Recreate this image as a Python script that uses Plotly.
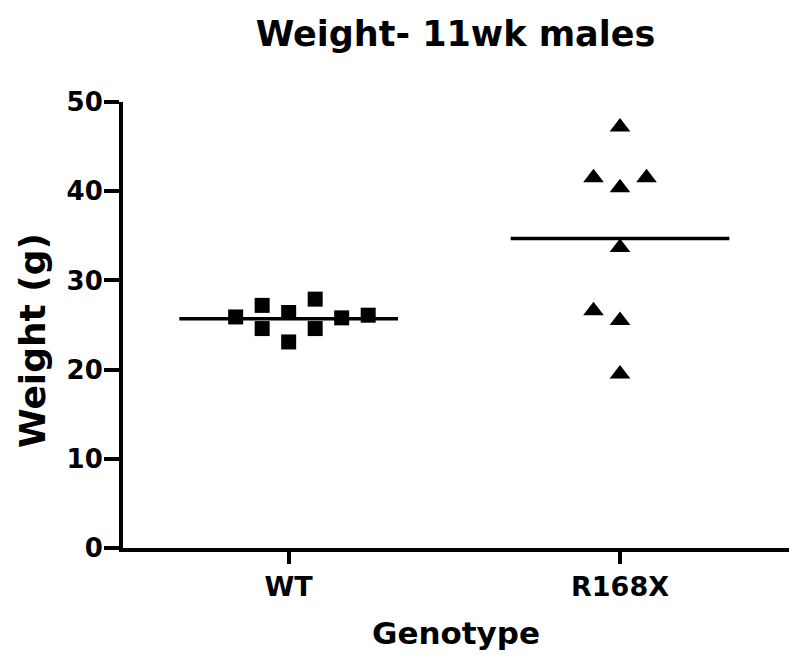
import plotly.graph_objects as go

# ---- data ----
categories = ["WT", "R168X"]
wt_offsets = [-0.16, -0.08, -0.08, 0.0, 0.0, 0.08, 0.08, 0.16, 0.24]
wt_values = [25.9, 27.2, 24.6, 26.4, 23.1, 27.9, 24.6, 25.8, 26.1]
r168x_offsets = [0.0, -0.08, 0.08, 0.0, 0.0, -0.08, 0.0, 0.0]
r168x_values = [47.2, 41.5, 41.5, 40.4, 33.7, 26.6, 25.5, 19.5]
means = [25.7, 34.7]
y_ticks = [0, 10, 20, 30, 40, 50]

FONT = "DejaVu Sans"
HALF = 0.33
W, H = 792, 659   # page body has an 8px default margin

fig = go.Figure()

fig.add_trace(go.Scatter(
    x=[0 + o for o in wt_offsets], y=wt_values, mode="markers",
    marker=dict(symbol="square", size=15, color="black"), showlegend=False))
fig.add_trace(go.Scatter(
    x=[1 + o for o in r168x_offsets], y=r168x_values, mode="markers",
    marker=dict(symbol="triangle-up", size=18, color="black"), showlegend=False))

for i, m in enumerate(means):
    fig.add_trace(go.Scatter(
        x=[i - HALF, i + HALF], y=[m, m], mode="lines",
        line=dict(color="black", width=3.5), showlegend=False))

fig.update_layout(
    width=W, height=H,
    paper_bgcolor="white", plot_bgcolor="white",
    margin=dict(l=115, r=11, t=94, b=119),
    title=dict(text="<b>Weight- 11wk males</b>", x=0.565, xanchor="center",
               y=1 - 26 / H, yanchor="middle",
               font=dict(family=FONT, size=35, color="black")),
    font=dict(family=FONT, color="black"),
)

fig.update_xaxes(
    range=[-0.5, 1.51], tickmode="array", tickvals=[0, 1],
    ticktext=[f"<b>{c}</b>" for c in categories],
    tickfont=dict(family=FONT, size=27, color="black"),
    showline=True, linewidth=4, linecolor="black",
    ticks="outside", ticklen=12, tickwidth=4, tickcolor="black",
    showgrid=False, zeroline=False,
    title=dict(text="<b>Genotype</b>", font=dict(family=FONT, size=31, color="black"),
               standoff=22),
)
fig.update_yaxes(
    range=[0, 50], tickmode="array", tickvals=y_ticks,
    ticktext=[f"<b>{t}</b>" for t in y_ticks],
    tickfont=dict(family=FONT, size=26, color="black"),
    ticklabelstandoff=-4,
    showline=True, linewidth=4, linecolor="black",
    ticks="outside", ticklen=15, tickwidth=4, tickcolor="black",
    showgrid=False, zeroline=False,
)

fig.add_annotation(
    text="<b>Weight (g)</b>", textangle=-90,
    xref="paper", yref="paper", x=(32 - 123) / 666, y=(548 - 341) / 446,
    xanchor="center", yanchor="middle", showarrow=False,
    font=dict(family=FONT, size=36, color="black"))

fig.write_html("out.html")
